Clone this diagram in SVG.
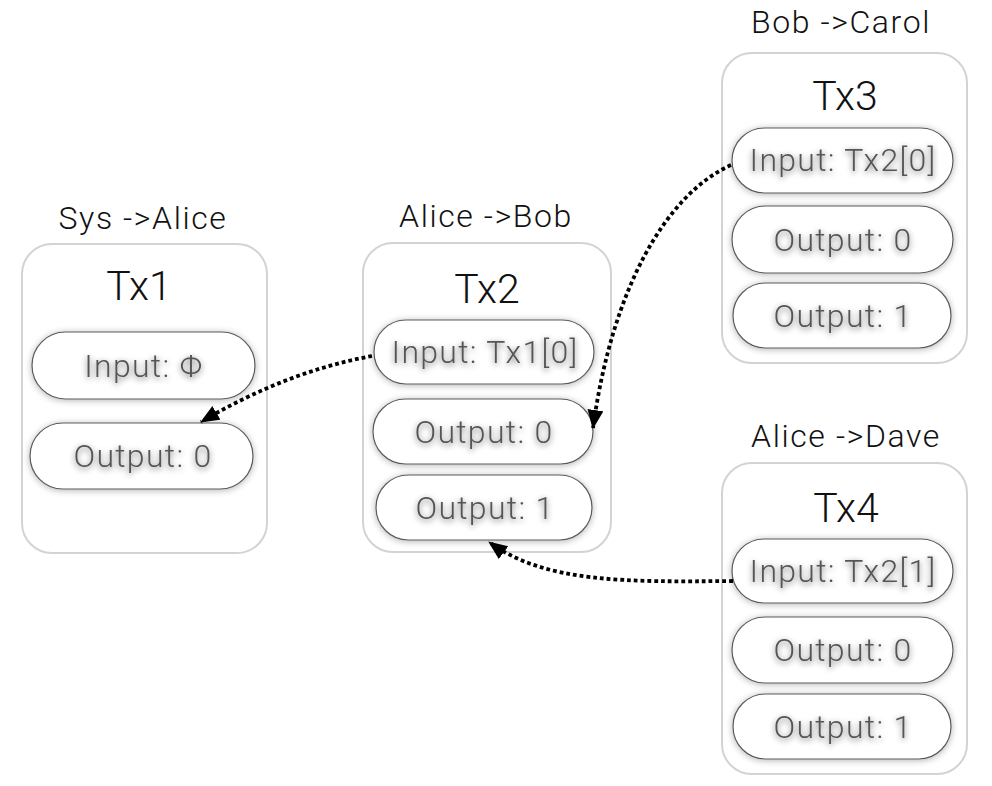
<svg xmlns="http://www.w3.org/2000/svg" width="992" height="786" viewBox="0 0 992 786">
<defs>
<style>
.box{fill:#fff;stroke:#d3d3d3;stroke-width:2}
.pill{fill:#fff;stroke:#5a5a5a;stroke-width:1.2}
.lbl{font-family:Roboto,"Liberation Sans",sans-serif;font-weight:300;font-size:32px;letter-spacing:1.6px;fill:#111;text-anchor:middle}
.ttl{font-family:Roboto,"Liberation Sans",sans-serif;font-weight:300;font-size:41px;fill:#111;text-anchor:middle}
.pt{font-family:Roboto,"Liberation Sans",sans-serif;font-weight:300;font-size:32px;letter-spacing:1.3px;fill:#555;text-anchor:middle}
.con{fill:none;stroke:#000;stroke-width:3.8;stroke-dasharray:3.8 3}
</style>
<filter id="glow" x="-20%" y="-30%" width="140%" height="160%">
<feGaussianBlur in="SourceAlpha" stdDeviation="3.5"/>
<feOffset dy="1"/>
<feComponentTransfer><feFuncA type="linear" slope="0.3"/></feComponentTransfer>
<feMerge><feMergeNode/><feMergeNode in="SourceGraphic"/></feMerge>
</filter>
<filter id="tglow" x="-20%" y="-40%" width="140%" height="180%">
<feGaussianBlur in="SourceAlpha" stdDeviation="3"/>
<feOffset dy="2"/>
<feComponentTransfer><feFuncA type="linear" slope="0.6"/></feComponentTransfer>
<feMerge><feMergeNode/><feMergeNode in="SourceGraphic"/></feMerge>
</filter>
<marker id="arr" markerUnits="userSpaceOnUse" markerWidth="22" markerHeight="18" refX="18" refY="8" orient="auto">
<path d="M0,0 L19,8 L0,16 Z" fill="#000"/>
</marker>
</defs>

<g id="tx1">
<text class="lbl" x="143" y="229">Sys -&gt;Alice</text>
<rect class="box" x="22" y="244" width="245" height="309" rx="30"/>
<text class="ttl" x="139" y="300">Tx1</text>
<rect class="pill" x="32" y="332" width="223" height="67" rx="33.5" filter="url(#glow)"/>
<text class="pt" x="144" y="377" filter="url(#tglow)">Input: Φ</text>
<rect class="pill" x="30" y="423" width="223" height="66" rx="33" filter="url(#glow)"/>
<text class="pt" x="143" y="467" filter="url(#tglow)">Output: 0</text>
</g>

<g id="tx2">
<text class="lbl" x="486" y="227">Alice -&gt;Bob</text>
<rect class="box" x="363" y="243" width="248" height="309" rx="30"/>
<text class="ttl" x="487" y="303">Tx2</text>
<rect class="pill" x="374" y="320" width="220" height="64" rx="32" filter="url(#glow)"/>
<text class="pt" x="485" y="363" filter="url(#tglow)">Input: Tx1[0]</text>
<rect class="pill" x="373" y="399" width="220" height="65" rx="32.5" filter="url(#glow)"/>
<text class="pt" x="484" y="443" filter="url(#tglow)">Output: 0</text>
<rect class="pill" x="376" y="475" width="216" height="65" rx="32.5" filter="url(#glow)"/>
<text class="pt" x="485" y="519" filter="url(#tglow)">Output: 1</text>
</g>

<g id="tx3">
<text class="lbl" x="841" y="33">Bob -&gt;Carol</text>
<rect class="box" x="722" y="53" width="245" height="310" rx="30"/>
<text class="ttl" x="845" y="110">Tx3</text>
<rect class="pill" x="732" y="128" width="221" height="65" rx="32.5" filter="url(#glow)"/>
<text class="pt" x="843" y="171" filter="url(#tglow)">Input: Tx2[0]</text>
<rect class="pill" x="732" y="206" width="221" height="67" rx="33.5" filter="url(#glow)"/>
<text class="pt" x="843" y="251" filter="url(#tglow)">Output: 0</text>
<rect class="pill" x="733" y="283" width="218" height="65" rx="32.5" filter="url(#glow)"/>
<text class="pt" x="843" y="327" filter="url(#tglow)">Output: 1</text>
</g>

<g id="tx4">
<text class="lbl" x="846" y="447">Alice -&gt;Dave</text>
<rect class="box" x="722" y="463" width="245" height="311" rx="30"/>
<text class="ttl" x="846" y="522">Tx4</text>
<rect class="pill" x="732" y="539" width="221" height="64" rx="32" filter="url(#glow)"/>
<text class="pt" x="843" y="582" filter="url(#tglow)">Input: Tx2[1]</text>
<rect class="pill" x="732" y="617" width="221" height="66" rx="33" filter="url(#glow)"/>
<text class="pt" x="843" y="661" filter="url(#tglow)">Output: 0</text>
<rect class="pill" x="733" y="694" width="218" height="65" rx="32.5" filter="url(#glow)"/>
<text class="pt" x="843" y="738" filter="url(#tglow)">Output: 1</text>
</g>

<g id="connectors">
<path class="con" d="M372,356 Q285,372 201,422" marker-end="url(#arr)"/>
<path class="con" d="M731,165 C665,195 612,290 593,428" marker-end="url(#arr)"/>
<path class="con" d="M733,581 C625,582 545,583 489,542" marker-end="url(#arr)"/>
</g>
</svg>
